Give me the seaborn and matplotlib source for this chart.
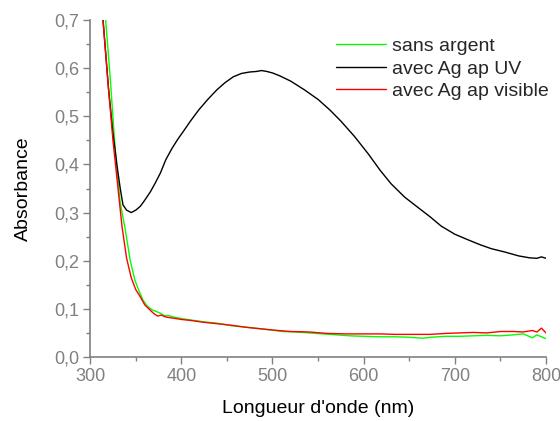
import pandas as pd
import seaborn as sns
import matplotlib.pyplot as plt
from matplotlib.ticker import MultipleLocator, FuncFormatter

# spectres
wl_sans = [312, 317, 322, 326, 329, 333, 338, 344, 349, 353, 358, 363, 368, 372, 377, 381, 386, 392,
           400, 410, 425, 440, 455, 470, 485, 500, 510, 525, 540, 555, 570, 585, 600, 618, 635, 650,
           665, 673, 690, 705, 720, 735, 750, 764, 775, 785, 790, 795, 800]
abs_sans = [0.80, 0.70, 0.58, 0.47, 0.395, 0.32, 0.27, 0.20, 0.16, 0.14, 0.118, 0.105, 0.098, 0.095,
            0.091, 0.086, 0.086, 0.083, 0.080, 0.077, 0.073, 0.070, 0.065, 0.062, 0.059, 0.056, 0.053,
            0.052, 0.050, 0.048, 0.046, 0.044, 0.043, 0.042, 0.042, 0.041, 0.039, 0.041, 0.043, 0.043,
            0.044, 0.045, 0.044, 0.046, 0.048, 0.040, 0.046, 0.042, 0.038]

wl_uv = [310, 315, 320, 325, 330, 333, 336, 340, 345, 350, 355, 360, 366, 371, 377, 383, 390, 396,
         402, 410, 419, 429, 439, 448, 457, 466, 475, 482, 488, 494, 500, 508, 520, 535, 550, 563,
         575, 590, 605, 618, 630, 645, 660, 673, 685, 700, 715, 728, 740, 755, 770, 782, 790, 795, 800]
abs_uv = [0.80, 0.68, 0.56, 0.465, 0.39, 0.35, 0.316, 0.305, 0.300, 0.305, 0.313, 0.326, 0.343, 0.36,
          0.382, 0.41, 0.434, 0.452, 0.468, 0.49, 0.513, 0.535, 0.555, 0.570, 0.582, 0.589, 0.592,
          0.593, 0.595, 0.593, 0.590, 0.584, 0.573, 0.555, 0.535, 0.513, 0.49, 0.458, 0.422, 0.388,
          0.36, 0.332, 0.31, 0.291, 0.272, 0.255, 0.243, 0.233, 0.225, 0.218, 0.210, 0.206, 0.205,
          0.208, 0.205]

wl_vis = [310, 314, 320, 325, 330, 335, 340, 345, 350, 355, 360, 366, 370, 374, 378, 383, 390, 400,
          410, 425, 440, 455, 470, 485, 500, 520, 540, 560, 580, 600, 618, 635, 650, 673, 690, 705,
          720, 735, 750, 764, 775, 785, 790, 795, 800]
abs_vis = [0.80, 0.70, 0.56, 0.45, 0.36, 0.27, 0.205, 0.165, 0.14, 0.125, 0.108, 0.097, 0.09, 0.085,
           0.087, 0.083, 0.081, 0.078, 0.076, 0.072, 0.069, 0.066, 0.062, 0.059, 0.056, 0.053, 0.052,
           0.049, 0.048, 0.048, 0.048, 0.047, 0.047, 0.047, 0.049, 0.050, 0.051, 0.050, 0.053, 0.053,
           0.052, 0.055, 0.052, 0.060, 0.050]

noms = ["sans argent", "avec Ag ap UV", "avec Ag ap visible"]
couleurs = {"sans argent": "#00ff00", "avec Ag ap UV": "black", "avec Ag ap visible": "#ff0000"}

df = pd.concat([
    pd.DataFrame({"wl": wl_sans, "A": abs_sans, "ech": noms[0]}),
    pd.DataFrame({"wl": wl_uv, "A": abs_uv, "ech": noms[1]}),
    pd.DataFrame({"wl": wl_vis, "A": abs_vis, "ech": noms[2]}),
])

sns.set_style("ticks")
plt.rcParams["font.family"] = ["Liberation Sans", "DejaVu Sans"]

fig = plt.figure(figsize=(5.6, 4.21), dpi=100)
ax = fig.add_axes([0.161, 0.152, 0.814, 0.8005])

sns.lineplot(data=df, x="wl", y="A", hue="ech", hue_order=noms, palette=couleurs,
             sort=False, estimator=None, linewidth=1, ax=ax)

ax.set_xlim(300, 800)
ax.set_ylim(0, 0.7)
ax.xaxis.set_major_locator(MultipleLocator(100))
ax.xaxis.set_minor_locator(MultipleLocator(50))
ax.yaxis.set_major_locator(MultipleLocator(0.1))
ax.yaxis.set_minor_locator(MultipleLocator(0.05))
ax.yaxis.set_major_formatter(FuncFormatter(lambda v, p: f"{v:.1f}".replace(".", ",")))

gris = "#808080"
for s in ["top", "right"]:
    ax.spines[s].set_visible(False)
for s in ["left", "bottom"]:
    ax.spines[s].set_color(gris)
    ax.spines[s].set_linewidth(1.2)
ax.tick_params(which="both", direction="out", colors=gris, labelsize=13, width=1)
ax.tick_params(which="major", length=5, pad=3)
ax.tick_params(which="minor", length=3)

ax.set_xlabel("Longueur d'onde (nm)", fontsize=14, color="black", labelpad=11)
ax.set_ylabel("Absorbance", fontsize=14, color="black", labelpad=16)

leg = ax.legend(loc="upper right", bbox_to_anchor=(1.045, 1.0), frameon=False, fontsize=14,
                handlelength=2.6, handletextpad=0.3, labelspacing=0.25)
for l in leg.get_lines():
    l.set_linewidth(1)

fig.savefig("out.png", dpi=100)
